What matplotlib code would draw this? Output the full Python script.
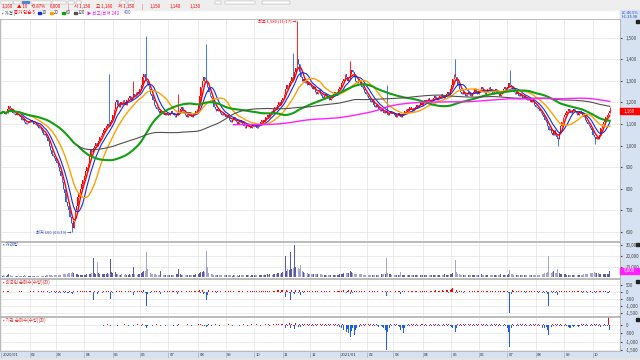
import numpy as np
import pandas as pd
import matplotlib
matplotlib.use('Agg')
import matplotlib.pyplot as plt
from matplotlib.patches import Rectangle
from matplotlib.ticker import FuncFormatter
from matplotlib.transforms import blended_transform_factory

plt.rcParams['font.family'] = ['Noto Sans CJK KR', 'DejaVu Sans']

# daily closes, one row per month (2020/01 ~ 2021/10)
close_2020 = [
    1150, 1160, 1155, 1145, 1150, 1170, 1185, 1175, 1160, 1150, 1145, 1140, 1150, 1145, 1135, 1130, 1120, 1125, 1110, 1100, 1105, 1110,
    1115, 1120, 1110, 1100, 1105, 1095, 1090, 1080, 1085, 1070, 1060, 1050, 1055, 1040, 1020, 1000, 980, 960, 950, 940,
    930, 920, 900, 880, 860, 830, 800, 780, 740, 720, 700, 670, 640, 615, 650, 700, 720, 760, 780, 800, 820, 840,
    860, 880, 900, 920, 950, 980, 970, 990, 1000, 1010, 1000, 1020, 1040, 1050, 1060, 1070, 1080, 1090, 1100, 1090, 1110, 1120,
    1140, 1170, 1200, 1210, 1190, 1180, 1200, 1190, 1210, 1200, 1190, 1210, 1220, 1230, 1210, 1220, 1240, 1230, 1250, 1240, 1250,
    1260, 1280, 1320, 1330, 1310, 1300, 1280, 1260, 1240, 1230, 1210, 1190, 1180, 1170, 1160, 1150, 1160, 1150, 1145, 1140, 1150, 1145,
    1140, 1150, 1160, 1150, 1140, 1130, 1140, 1150, 1160, 1170, 1180, 1160, 1150, 1140, 1130, 1140, 1150, 1140, 1130, 1140, 1150, 1160, 1170,
    1190, 1230, 1270, 1300, 1320, 1310, 1290, 1270, 1250, 1230, 1220, 1200, 1180, 1170, 1160, 1170, 1160, 1150, 1140, 1150, 1140,
    1130, 1140, 1130, 1120, 1110, 1120, 1130, 1120, 1110, 1100, 1110, 1120, 1110, 1100, 1090, 1080, 1090, 1100, 1090, 1080, 1090, 1100,
    1100, 1090, 1080, 1090, 1100, 1110, 1120, 1110, 1120, 1130, 1140, 1130, 1150, 1160, 1150, 1170, 1180, 1170, 1190, 1200, 1190, 1210,
    1220, 1240, 1260, 1280, 1270, 1290, 1300, 1320, 1310, 1340, 1360, 1400, 1380, 1340, 1320, 1300, 1310, 1290, 1300, 1280, 1290,
    1280, 1270, 1260, 1270, 1250, 1240, 1250, 1260, 1240, 1230, 1220, 1230, 1240, 1230, 1220, 1210, 1220, 1230, 1240, 1250, 1240, 1250, 1260,
]
close_2021 = [
    1270, 1290, 1300, 1310, 1330, 1320, 1300, 1310, 1330, 1350, 1340, 1320, 1300, 1290, 1310, 1300, 1280, 1270, 1260, 1250, 1240,
    1230, 1220, 1210, 1200, 1210, 1190, 1180, 1190, 1180, 1170, 1160, 1170, 1160, 1150, 1160, 1150, 1140, 1150, 1160, 1150,
    1150, 1140, 1130, 1140, 1150, 1140, 1130, 1140, 1150, 1160, 1170, 1160, 1170, 1180, 1170, 1160, 1170, 1180, 1190, 1180, 1190, 1200, 1190,
    1200, 1210, 1200, 1210, 1220, 1210, 1200, 1210, 1220, 1230, 1220, 1210, 1220, 1230, 1240, 1230, 1220, 1230, 1240, 1250, 1240, 1260,
    1280, 1310, 1330, 1320, 1300, 1280, 1260, 1250, 1240, 1250, 1240, 1230, 1240, 1250, 1240, 1230, 1240, 1250, 1260, 1250, 1240,
    1250, 1260, 1270, 1260, 1250, 1240, 1250, 1260, 1270, 1260, 1250, 1240, 1250, 1260, 1250, 1240, 1230, 1240, 1250, 1260, 1270, 1260,
    1270, 1290, 1280, 1270, 1260, 1250, 1240, 1250, 1240, 1230, 1240, 1230, 1220, 1230, 1220, 1210, 1220, 1210, 1200, 1210, 1200, 1190,
    1180, 1175, 1170, 1160, 1150, 1140, 1130, 1120, 1110, 1090, 1070, 1080, 1060, 1050, 1070, 1050, 1040, 1030, 1060, 1090, 1110, 1130,
    1140, 1150, 1160, 1170, 1160, 1150, 1160, 1170, 1160, 1150, 1140, 1150, 1160, 1150, 1140, 1130, 1120, 1110, 1100, 1090, 1080, 1070,
    1050, 1040, 1030, 1040, 1030, 1050, 1080, 1100, 1110, 1120, 1130, 1140, 1150, 1160,
]

# long wicks visible on the chart
wick_high_dates = ['2020-04-28', '2020-05-25', '2020-06-08', '2020-07-10', '2020-08-11', '2020-11-12',
                   '2020-11-17', '2021-01-13', '2021-02-22', '2021-05-06', '2021-07-05', '2021-10-20']
wick_highs = [1330, 1300, 1510, 1240, 1470, 1430, 1580, 1390, 1280, 1400, 1350, 1180]
wick_low_dates = ['2020-03-19', '2021-08-25', '2021-10-05']
wick_lows = [600, 1000, 1005]

# volume (thousand shares)
volume_k_2020 = [
    1, 1, 2, 1, 1, 2, 3, 2, 1, 1, 1, 1, 1, 1, 1, 1, 1, 1, 2, 1, 1, 1,
    1, 1, 1, 1, 1, 1, 1, 1, 1, 1, 1, 1, 1, 2, 2, 2, 2, 2, 1, 2,
    2, 2, 2, 2, 2, 2, 3, 3, 3, 3, 4, 4, 4, 5, 4, 3, 3, 3, 2, 2, 2, 2,
    2, 2, 3, 3, 3, 3, 4, 18, 4, 3, 14, 4, 3, 5, 3, 3, 3, 3, 4, 3, 17, 5,
    4, 3, 5, 3, 3, 2, 2, 3, 2, 2, 3, 2, 2, 3, 2, 3, 10, 3, 2, 2, 3,
    3, 4, 5, 6, 6, 24, 8, 5, 4, 3, 3, 3, 3, 2, 2, 2, 6, 3, 2, 2, 2, 2,
    2, 2, 2, 2, 2, 2, 3, 3, 8, 3, 2, 2, 2, 2, 2, 2, 2, 2, 2, 2, 2, 3, 3,
    3, 4, 5, 5, 6, 5, 25, 10, 4, 3, 3, 3, 2, 2, 2, 2, 2, 2, 2, 2, 2,
    2, 2, 2, 2, 2, 1, 2, 2, 2, 2, 1, 2, 2, 2, 2, 1, 2, 2, 2, 1, 2, 2,
    2, 2, 2, 2, 2, 2, 2, 2, 2, 2, 3, 2, 3, 3, 2, 3, 3, 3, 4, 4, 3, 4,
    5, 6, 20, 6, 8, 7, 24, 8, 9, 30, 10, 26, 9, 8, 12, 6, 5, 4, 4, 4, 3,
    3, 3, 3, 3, 3, 3, 3, 2, 3, 3, 2, 2, 2, 2, 2, 2, 2, 2, 2, 2, 2, 2, 2,
]
volume_k_2021 = [
    3, 3, 3, 4, 4, 4, 4, 4, 6, 5, 4, 3, 3, 3, 3, 3, 3, 3, 2, 2, 2,
    2, 2, 2, 2, 2, 2, 2, 2, 2, 2, 2, 3, 3, 3, 3, 18, 4, 3, 3, 2,
    2, 2, 2, 2, 2, 2, 5, 2, 2, 2, 2, 2, 2, 2, 2, 2, 2, 2, 2, 2, 2, 2, 2,
    2, 2, 2, 2, 2, 2, 2, 2, 2, 2, 2, 2, 2, 2, 2, 2, 2, 3, 2, 2, 2, 3,
    3, 4, 6, 16, 5, 3, 3, 2, 2, 2, 2, 2, 2, 2, 2, 2, 2, 2, 2, 2, 2,
    2, 2, 3, 2, 2, 2, 2, 2, 3, 2, 2, 2, 2, 2, 2, 2, 2, 3, 2, 2, 2, 2,
    2, 3, 7, 3, 3, 2, 2, 2, 2, 2, 2, 2, 2, 2, 2, 2, 2, 2, 2, 2, 2, 2,
    2, 2, 2, 2, 3, 3, 3, 4, 4, 5, 20, 5, 4, 5, 6, 4, 4, 8, 4, 3, 3, 3,
    3, 3, 2, 2, 2, 2, 2, 2, 2, 2, 2, 2, 2, 2, 2, 3, 3, 3, 3, 3, 4, 4,
    4, 5, 4, 4, 4, 3, 3, 3, 3, 3, 3, 3, 3, 6,
]

# foreign net buying (shares)
foreign_2020 = [
    20, -30, 40, 10, -20, 50, 80, -40, 10, -10, 20, -20, 10, -30, 20, -10, 30, -20, 10, -40, 20, 10,
    -20, 30, -10, 20, -30, 10, -20, 20, -10, 30, -40, 20, -30, -50, 20, -60, -40, 30, -50, 20,
    -60, 40, -80, 30, -70, -90, 50, -100, 60, -80, -120, 40, -60, -150, 80, 60, -40, 50, -30, 40, -20, 30,
    30, -40, 50, -30, 20, 40, -50, -600, 60, -40, -200, 50, -30, 40, -60, 30, -20, 40, -30, 50, -550, 60,
    -80, 60, -40, 30, -20, 40, -30, 20, 50, -40, 30, -20, 40, -30, 20, -50, -250, 40, -30, 20, -20,
    40, 60, -80, 100, -60, -1000, -200, 80, -60, 40, -30, 50, -40, 30, -20, 40, -150, 30, -20, 40, -30, 20,
    -20, 30, -40, 20, 50, -30, 40, -200, 60, -30, 20, -40, 30, -20, 40, -30, 20, -30, 40, -20, 30, 60, -20,
    80, 100, -60, 120, -150, -80, -600, -250, 100, 60, -40, 50, -30, 40, -60, 30, -40, 20, -30, 40, -20,
    30, -20, 40, -30, 20, -40, 30, -20, 40, -30, 20, 50, -30, 40, -20, 30, -40, 20, -30, 40, -20, 30,
    40, -30, 50, -20, 60, -40, 30, 50, -20, 40, 60, -30, 80, 100, -40, 60, 80, -50, 100, 120, -60, 90,
    100, 120, -400, 150, 80, -100, -600, 120, -80, -200, 150, -500, -100, 100, -250, 80, -60, 50, -40, 60, -30,
    50, -40, 60, -30, 80, -50, 40, 60, -40, 30, -20, 40, -30, 50, -20, 30, -40, 20, -30, 40, -20, 30, 40,
]
foreign_2021 = [
    60, 80, -50, 100, 120, -60, 80, 150, -200, 100, -80, 60, -50, 40, -60, 30, -40, 50, -30, 40, -20,
    40, -30, 50, -40, 30, -20, 40, -30, 50, -20, 40, -30, 60, -40, 50, -300, 40, -30, 20, -20,
    30, -20, 40, -30, 20, 50, -150, 40, -30, 20, 60, -20, 40, -30, 50, 20, -40, 60, 80, -30, 50, 70, -20,
    60, 80, -40, 70, 90, -30, 60, 50, -40, 80, 100, -50, 60, 70, -30, 90, 80, -40, 100, 120, -60, 150,
    200, 300, 400, -100, 150, -80, 60, -40, 50, -60, 40, -30, 60, -40, 50, -30, 40, -20, 30, -40, 20,
    40, -30, 60, -20, 50, -40, 30, 60, -30, 40, -20, 50, -30, 40, -20, 30, -40, 50, -20, 30, 40, -30,
    60, -80, -1500, -200, 100, 80, -60, 40, -50, 30, -40, 50, -30, 40, -60, 30, -20, 40, -30, 20, -40, 30,
    -40, 30, -60, 40, -80, -100, 50, -120, 60, -150, -1000, -200, 80, -100, 60, -80, 50, -250, 40, -30, 50, -20,
    30, -40, 50, -20, 40, -30, 60, -20, 40, -30, 20, 50, -30, 40, -60, 30, -40, 50, -80, -60, 40, -50,
    -60, 40, -80, 50, -40, 60, 80, -30, 70, -40, 50, -60, -120, 80,
]

# institution net buying (shares); no trades shown before mid-April 2020
inst_2020 = [0] * 22 + [0] * 20 + [0] * 22 + [
    0, 0, 0, 0, 0, 0, 0, 0, 0, 0, 0, 0, 0, 0, 20, -30, 10, -20, 30, -10, -80, 20,
    -20, 30, -10, 20, -30, 10, -20, 20, -10, 30, -20, 10, -30, 20, -10, 20, -60, 10, -20, 30, -10,
    20, -30, 40, -20, -50, -150, -40, 30, -20, 10, -30, 20, -10, 30, -20, 10, -40, 20, -10, 20, -30, 10,
    -10, 20, -20, 10, -30, 20, -10, -60, 30, 20, -10, 20, -30, 10, -20, 30, -10, 20, -30, 10, -20, 20, -10,
    30, -20, 40, -30, 20, -50, -120, -60, 30, 20, -30, 10, -20, 30, -10, 20, -30, 10, -20, 30, -10,
    20, -10, 30, -20, 10, -30, 20, -10, 30, -20, 10, -30, 20, -10, 30, -20, 10, -30, 20, -10, 30, -20,
    10, -20, 30, -10, 20, -30, 10, 20, -10, 30, -20, 40, -30, 20, -10, 30, -20, 40, -10, 30, -20, 40,
    60, -40, -150, 80, -60, 100, -200, 60, -80, -250, 100, -200, -120, 80, -100, 60, -40, 80, -60, 40, -30,
    40, -60, 30, -80, 50, -40, 60, -100, 40, -60, 30, -50, 40, -30, 50, -40, 30, -60, 40, -30, 50, -40, 30,
]
inst_2021 = [
    -100, -200, 80, -300, -150, -400, -250, -500, -700, -350, -200, -600, -300, -150, -250, -100, 60, -80, 40, -60, 30,
    -60, 40, -80, 30, -50, 40, -60, 30, -40, -100, 50, -80, -120, -200, -300, -1500, -400, -150, 60, -80,
    -50, 40, -80, 30, -60, -100, -300, -150, -500, -200, 40, -60, 30, -80, 50, -40, 30, -60, 40, -30, 50, -40, 30,
    40, -30, 50, -60, 40, -30, 60, -40, 30, -50, 40, -30, 60, -40, 30, -50, 40, -30, 50, -40, 30, -60,
    -100, -200, -300, -400, -150, 60, -80, 40, -60, 30, -50, 40, -30, 50, -40, 30, -60, 40, -30, 50, -40,
    30, -50, 40, -30, 60, -40, 30, -60, 40, -30, 50, -40, 30, -60, 40, -30, 50, -40, 30, -50, 40, -30,
    -200, -400, -1300, -150, 60, -80, 40, -60, 30, -50, 40, -30, 50, -40, 30, -60, 40, -30, 50, -40, 30, -50,
    40, -60, 30, -80, -100, -150, 50, -200, -120, -300, -600, -250, -100, 60, -80, 40, -60, 30, -50, 40, -30, 50,
    -40, 30, -60, -100, -150, -200, -80, -120, -60, 40, -80, -100, -60, 40, -50, 30, -60, 40, -80, 60, -40, 30,
    -60, 40, -80, 50, -40, 60, -100, 80, -60, 40, -50, -80, 700, -300,
]

ma_windows = [5, 10, 20, 60, 120, 240]
ma_colors = ['#ff0000', '#1030e0', '#ffa000', '#10a010', '#505050', '#ff20ff']
ma_widths = [1.0, 0.8, 1.0, 1.5, 0.8, 1.0]
ma_minp = [1, 1, 1, 1, 60, 180]

close = np.array(close_2020 + close_2021, dtype=float)
n = len(close)
volume = np.array((volume_k_2020 + volume_k_2021)[:n]) * 1000
foreign = np.array((foreign_2020 + foreign_2021)[:n])
inst = np.array((inst_2020 + inst_2021)[:n])
dates = pd.bdate_range('2020-01-02', periods=n)
x = np.arange(n)

opn = np.r_[close[0], close[:-1]]
high = np.maximum(opn, close)
low = np.minimum(opn, close)
for d, v in zip(wick_high_dates, wick_highs):
    if pd.Timestamp(d) in dates:
        high[dates.get_loc(pd.Timestamp(d))] = v
for d, v in zip(wick_low_dates, wick_lows):
    if pd.Timestamp(d) in dates:
        low[dates.get_loc(pd.Timestamp(d))] = v
up = close >= opn
UP, DN = '#ff0000', '#1f5fe8'
cols = np.where(up, UP, DN)

W, H = 640, 360
fig = plt.figure(figsize=(6.4, 3.6), dpi=100)


def px_axes(x0, y0, x1, y1):
    return fig.add_axes([x0 / W, 1 - y1 / H, (x1 - x0) / W, (y1 - y0) / H])


def fig_rect(x0, y0, w, h, **kw):
    fig.add_artist(Rectangle((x0 / W, 1 - (y0 + h) / H), w / W, h / H,
                             transform=fig.transFigure, zorder=-1, **kw))


def fig_text(x0, y0, s, **kw):
    kw.setdefault('fontsize', 3.2)
    fig.text(x0 / W, 1 - y0 / H, s, va='center', **kw)


# frame: toolbar, right scale strip, date strip
fig_rect(0, 0, 640, 10, color='#eeeeee')
for bx, bw, fc in [(1, 12, 'white'), (14, 7, 'white'), (22, 8, '#4a7fd0'), (31, 20, 'white'),
                   (52, 14, 'white'), (68, 6, 'white'), (76, 5, 'white'), (120, 6, 'white'),
                   (128, 6, 'white'), (215, 6, 'white'), (225, 30, 'white'), (262, 28, 'white')]:
    fig_rect(bx, 0.5, bw, 3.5, facecolor=fc, edgecolor='#a0a0a0', linewidth=0.3)
fig_rect(620, 10, 20, 342, color='#d6e2f1')
fig_rect(0, 352, 640, 6, color='#d6e2f1')
fig_rect(0, 358, 640, 2, color='#e4e4e4')

last = close[-1]
chg = close[-1] - close[-2]
header = [(2, f'{last:,.0f}'), (17, f'▲ {chg:,.0f}'), (31, f'+{chg / close[-2] * 100:.2f}%'),
          (50, f'{volume[-1]:,.0f}'), (68, '|'), (74, f'시 {opn[-1]:,.0f}'), (96, f'고 {high[-1]:,.0f}'),
          (118, f'저 {low[-1]:,.0f}'), (142, '|'), (150, f'{close[-2]:,.0f}'), (170, f'{close[-3]:,.0f}'),
          (190, f'{close[-4]:,.0f}')]
for hx, ht in header:
    fig_text(hx, 6.8, ht, color='red')

# legend row
fig_text(2, 13, '• 가격 |', color='#333333')
fig_text(14, 13, '종가 단순 5', color='red')
lx = 38
for lab, c in zip(['10', '20', '60', '120'], ma_colors[1:5]):
    fig_rect(lx, 11.5, 2.5, 2.8, color=c)
    fig_text(lx + 3.5, 13, lab, color='#333333')
    lx += 12
fig_text(lx + 1, 13, '▶ 최고/최저 240', color='#e020e0')
fig_text(lx + 38, 13, '400', color='#6060d0')
fig_text(622, 13, 'LC:46.5%', color='#2040c0', fontsize=2.8)
fig_text(622, 17, 'HC:25.98', color='#2040c0', fontsize=2.8)

XL = (-0.8, 476.9)
month_idx = [i for i in range(n) if i == 0 or dates[i].month != dates[i - 1].month]
month_lab = [f'{dates[i].year}/{dates[i].month:02d}' if dates[i].month == 1 else f'{dates[i].month:02d}'
             for i in month_idx]


def style(ax, ylim, ticks, fmt=lambda v, p: f'{v:,.0f}'):
    ax.set_xlim(*XL)
    ax.set_ylim(*ylim)
    ax.set_xticks(month_idx)
    ax.set_yticks(ticks)
    ax.yaxis.set_major_formatter(FuncFormatter(fmt))
    ax.tick_params(axis='x', length=0, labelbottom=False)
    ax.tick_params(axis='y', left=False, right=True, labelleft=False, labelright=True,
                   labelsize=3.2, length=1.5, pad=2.5, colors='#444444')
    ax.grid(True, color='#e4e4e4', linewidth=0.5)
    ax.set_axisbelow(True)
    for s in ax.spines.values():
        s.set_color('#b0b0b0')
        s.set_linewidth(0.6)


# price panel
ax = px_axes(0, 19, 620, 241)
style(ax, (557, 1587), np.arange(600, 1501, 100))
ax.vlines(x, low, high, colors=cols, linewidth=0.6, zorder=2)
ax.bar(x, close - opn, bottom=opn, width=0.7, color=cols, linewidth=0, zorder=2)
s = pd.Series(close)
for w, c, lw, mp in zip(ma_windows, ma_colors, ma_widths, ma_minp):
    ax.plot(x, s.rolling(w, min_periods=mp).mean(), color=c, linewidth=lw, zorder=3)

i_hi = int(np.argmax(high))
i_lo = int(np.argmin(low))
ax.text(i_hi - 0.5, high[i_hi], f'최고 {high[i_hi]:,.0f} ({dates[i_hi]:%m/%d}) →',
        ha='right', va='center', fontsize=3, color='red', zorder=4)
ax.text(i_lo - 0.5, low[i_lo], f'최저 {low[i_lo]:,.0f} ({dates[i_lo]:%m/%d}) →',
        ha='right', va='center', fontsize=3, color='#2040c0', zorder=4)
tr = blended_transform_factory(ax.transAxes, ax.transData)
ax.add_patch(Rectangle((1.0, last - 14), 20 / 620, 28, transform=tr, color='red', clip_on=False, zorder=5))
ax.text(1.006, last, f'{last:,.0f}', transform=tr, color='white', fontsize=3.2, va='center', zorder=6)

# volume panel
av = px_axes(0, 242, 620, 278)
style(av, (-560, 33100), [10000, 20000, 30000])
av.bar(x, volume, width=0.7, color=np.where(up, '#5a5aa8', '#a4a4d4'), linewidth=0)
trv = blended_transform_factory(av.transAxes, av.transData)
av.add_patch(Rectangle((1.0, volume[-1] - 2600), 20 / 620, 5200, transform=trv, color='#ff20ff',
                       clip_on=False, zorder=5))
av.text(1.006, volume[-1], f'{volume[-1]:,.0f}', transform=trv, color='white', fontsize=3.2,
        va='center', zorder=6)
av.text(0.005, 0.93, '• 거래량', transform=av.transAxes, fontsize=3.2, color='#3050a0', va='center')

# foreign net buying
af = px_axes(0, 279, 620, 316)
style(af, (-1748, 914), [500, 0, -500, -1000, -1500])
af.bar(x, foreign, width=0.7, color=np.where(foreign >= 0, UP, DN), linewidth=0)
af.text(0.005, 0.91, '• 외국인 순매수(수량)(좌)', transform=af.transAxes, fontsize=3.2, color='#e03030', va='center')

# institution net buying
ai = px_axes(0, 317, 620, 351)
style(ai, (-1557, 479), [0, -500, -1000, -1500])
ai.bar(x, inst, width=0.7, color=np.where(inst >= 0, UP, DN), linewidth=0)
ai.text(0.005, 0.9, '• 기관 순매수(수량)(좌)', transform=ai.transAxes, fontsize=3.2, color='#e03030', va='center')

# date strip
ad = px_axes(0, 352, 620, 358)
ad.set_xlim(*XL)
ad.set_ylim(0, 1)
ad.set_facecolor('#d6e2f1')
ad.axis('off')
ad.vlines(month_idx, 0, 1, color='#9fb0c8', linewidth=0.5)
for i, lab in zip(month_idx, month_lab):
    ad.text(i + 1, 0.5, lab, fontsize=3, color='#333333', va='center', ha='left')

for yy in [19, 242, 279, 317]:
    fig_rect(636, yy + 1, 2.5, 2.5, color='#222222')

fig.savefig('out.png', dpi=100)
